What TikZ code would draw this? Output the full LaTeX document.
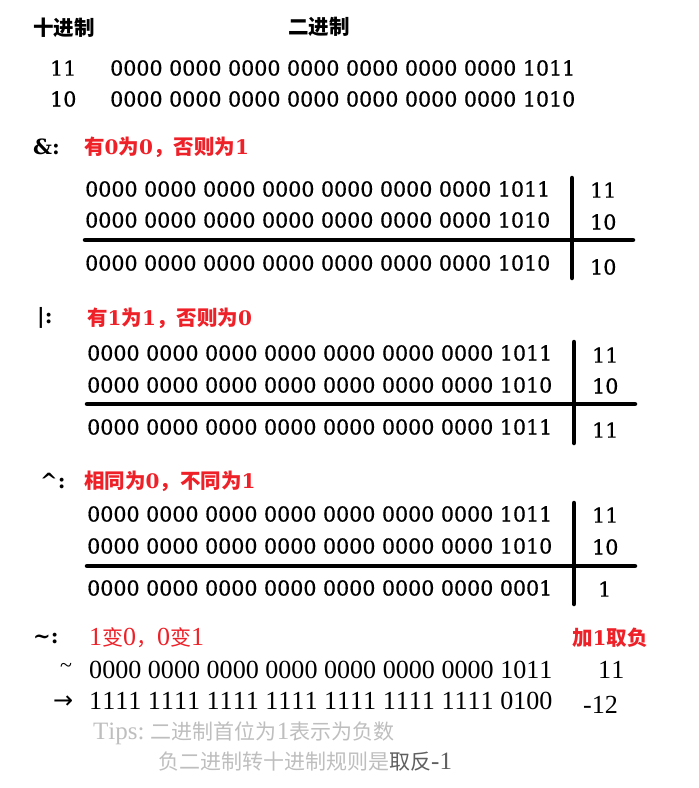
\documentclass[tikz,border=0pt]{standalone}
\usepackage{fontspec}
\setmainfont{DejaVu Serif}
\newfontfamily\binf{DejaVu Serif}[FakeBold=0.7]
\newfontfamily\cjk{Noto Sans CJK SC}
\newfontfamily\lib{Liberation Serif}[Kerning=Off]
\newfontfamily\djs{DejaVu Sans}
\definecolor{myred}{RGB}{238,32,40}
\definecolor{lgray}{RGB}{190,190,190}
\definecolor{dgray}{RGB}{95,95,95}
\newcommand\dg[1]{{\rmfamily\bfseries\fontsize{20}{24}\selectfont #1}}
\newcommand\lbn[1]{{\lib\fontsize{26}{28}\selectfont #1}}
\newcommand\tpn[1]{{\lib\fontsize{25}{28}\selectfont #1}}
\begin{document}
\begin{tikzpicture}[x=1pt,y=-1pt,
  bin/.style={anchor=west,inner sep=0pt,font=\binf\fontsize{20.6}{24}\selectfont},
  hdr/.style={anchor=west,inner sep=0pt,font=\cjk\bfseries\fontsize{20.5}{24}\selectfont},
  op/.style={anchor=west,inner sep=0pt,font=\bfseries\fontsize{21}{24}\selectfont},
  rtxt/.style={anchor=west,inner sep=0pt,text=myred,font=\cjk\bfseries\fontsize{20.5}{24}\selectfont},
  lbin/.style={anchor=west,inner sep=0pt,font=\lib\fontsize{26.1}{28}\selectfont},
  tips/.style={anchor=west,inner sep=0pt,text=lgray,font=\cjk\fontsize{21}{24}\selectfont},
  bar/.style={line width=4.5pt,line cap=round}]
\useasboundingbox (0,0) rectangle (699,788);
% headers
\node[hdr] (h1) at (33,28) {十进制};
\node[hdr] (h2) at (288,27) {二进制};
\node[bin] (d11) at (50,68) {11};
\node[bin] (b1) at (110,68) {0000 0000 0000 0000 0000 0000 0000 1011};
\node[bin] (d10) at (50,99) {10};
\node[bin] (b2) at (110,99) {0000 0000 0000 0000 0000 0000 0000 1010};
% AND
\node[op] (andl) at (33,147) {\&:};
\node[rtxt] (andr) at (84,147) {有\dg{0}为\dg{0}，否则为\dg{1}};
\node[bin] (a1) at (85,189) {0000 0000 0000 0000 0000 0000 0000 1011};
\node[bin] (a2) at (85,220) {0000 0000 0000 0000 0000 0000 0000 1010};
\node[bin] (a3) at (85,263) {0000 0000 0000 0000 0000 0000 0000 1010};
\node[bin] (na1) at (590,190) {11};
\node[bin] (na2) at (590,222) {10};
\node[bin] (na3) at (590,267) {10};
\coordinate (ah1) at (85,240); \coordinate (ah2) at (633,240);
\coordinate (av1) at (572,178); \coordinate (av2) at (572,278);
\draw[bar] (ah1) -- (ah2);
\draw[bar] (av1) -- (av2);
% OR
\node[op] (orl) at (37,318) {|:};
\node[rtxt] (orr) at (87,318) {有\dg{1}为\dg{1}，否则为\dg{0}};
\node[bin] (o1) at (87,353) {0000 0000 0000 0000 0000 0000 0000 1011};
\node[bin] (o2) at (87,385) {0000 0000 0000 0000 0000 0000 0000 1010};
\node[bin] (o3) at (87,427) {0000 0000 0000 0000 0000 0000 0000 1011};
\node[bin] (no1) at (592,355) {11};
\node[bin] (no2) at (592,386) {10};
\node[bin] (no3) at (592,430) {11};
\coordinate (oh1) at (87,404); \coordinate (oh2) at (635,404);
\coordinate (ov1) at (574,342); \coordinate (ov2) at (574,443);
\draw[bar] (oh1) -- (oh2);
\draw[bar] (ov1) -- (ov2);
% XOR
\node[op] (xl) at (40,481) {\^{}:};
\node[rtxt] (xr) at (84,481) {相同为\dg{0}，不同为\dg{1}};
\node[bin] (x1) at (87,514) {0000 0000 0000 0000 0000 0000 0000 1011};
\node[bin] (x2) at (87,546) {0000 0000 0000 0000 0000 0000 0000 1010};
\node[bin] (x3) at (87,588) {0000 0000 0000 0000 0000 0000 0000 0001};
\node[bin] (nx1) at (592,515) {11};
\node[bin] (nx2) at (592,547) {10};
\node[bin] (nx3) at (598,589) {1};
\coordinate (xh1) at (87,566); \coordinate (xh2) at (635,566);
\coordinate (xv1) at (574,503); \coordinate (xv2) at (574,604);
\draw[bar] (xh1) -- (xh2);
\draw[bar] (xv1) -- (xv2);
% NOT
\node[op] (nl) at (33,638) {\textasciitilde:};
\node[anchor=west,inner sep=0pt,text=myred,font=\cjk\fontsize{21}{24}\selectfont] (nr) at (89,638) {\lbn{1}变\lbn{0}，\lbn{0}变\lbn{1}};
\node[rtxt] (neg) at (572,638) {加\dg{1}取负};
\node[anchor=west,inner sep=0pt,font=\lib\fontsize{22}{24}\selectfont] (tl) at (60,668) {\textasciitilde};
\node[lbin] (n1) at (89,670) {0000 0000 0000 0000 0000 0000 0000 1011};
\node[lbin] (n1r) at (598,670) {11};
\node[anchor=west,inner sep=0pt,font=\djs\fontsize{24}{26}\selectfont] (arr) at (53,702) {→};
\node[lbin] (n2) at (89,701) {1111 1111 1111 1111 1111 1111 1111 0100};
\node[lbin] (n2r) at (583,705) {-12};
\node[tips] (t1) at (93,733) {\tpn{Tips:} 二进制首位为\tpn{1}表示为负数};
\node[tips] (t2) at (158,762) {负二进制转十进制规则是\textcolor{dgray}{取反\tpn{-1}}};
\end{tikzpicture}
\end{document}
